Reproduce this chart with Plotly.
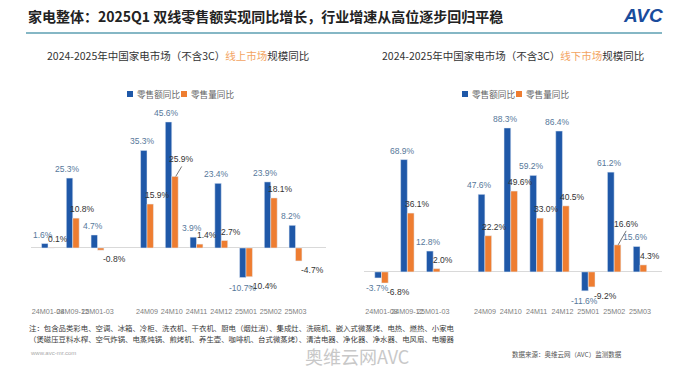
import plotly.graph_objects as go

categories = ["24M01-08", "24M09-12", "25M01-03", " ", "24M09", "24M10", "24M11", "24M12", "25M01", "25M02", "25M03"]

online_value = [1.6, 25.3, 4.7, None, 35.3, 45.6, 3.9, 23.4, -10.7, 23.9, 8.2]
online_volume = [0.1, 10.8, -0.8, None, 15.9, 25.9, 1.4, 2.7, -10.4, 18.1, -4.7]

offline_value = [-3.7, 68.9, 12.8, None, 47.6, 88.3, 59.2, 86.4, -11.6, 61.2, 15.6]
offline_volume = [-6.8, 36.1, 2.0, None, 22.2, 49.6, 33.0, 40.5, -9.2, 16.6, 4.3]

series_names = ["零售额同比", "零售量同比"]

BLUE = "#1f58a8"
ORANGE = "#ee7d31"
BLUE_TXT = "#56789a"
ORANGE_TXT = "#333333"
W, H = 689, 376


def px(x):
    return x / W


def py(y):
    return 1 - y / H


fig = go.Figure()

panels = [
    ("x", "y", online_value, online_volume, {"24M10": (6, -10)}),
    ("x2", "y2", offline_value, offline_volume, {"25M02": (8, -14)}),
]

LABEL_FONT = dict(size=8.5, family="Liberation Sans, Arial")
annotations = []
for xa, ya, vals_a, vals_b, leader in panels:
    for vals, name, color in [(vals_a, series_names[0], BLUE), (vals_b, series_names[1], ORANGE)]:
        fig.add_trace(go.Bar(
            x=categories, y=vals, name=name, marker_color=color,
            xaxis=xa, yaxis=ya, showlegend=False, cliponaxis=False,
        ))
    # data labels, anchored on the data through the axes
    for cat, va, vb in zip(categories, vals_a, vals_b):
        if va is not None:
            annotations.append(dict(
                x=cat, y=va, xref=xa, yref=ya, text=f"{va:.1f}%", showarrow=False,
                xanchor="center", yanchor="bottom" if va >= 0 else "top",
                xshift=-5 if va >= 0 else -4, yshift=2 if va >= 0 else -3,
                font=dict(color=BLUE_TXT, **LABEL_FONT)))
        if vb is not None:
            if cat in leader:
                ax, ay = leader[cat]
                annotations.append(dict(
                    x=cat, y=vb, xref=xa, yref=ya, text=f"{vb:.1f}%", showarrow=True,
                    arrowhead=0, arrowwidth=0.8, arrowcolor="#555555", ax=ax, ay=ay,
                    xanchor="center", yanchor="bottom", xshift=4,
                    font=dict(color=ORANGE_TXT, **LABEL_FONT)))
            else:
                annotations.append(dict(
                    x=cat, y=vb, xref=xa, yref=ya, text=f"{vb:.1f}%", showarrow=False,
                    xanchor="center", yanchor="bottom" if vb >= 0 else "top",
                    xshift=10 if vb >= 0 else 17, yshift=2 if vb >= 0 else -2,
                    font=dict(color=ORANGE_TXT, **LABEL_FONT)))

ydom = [py(306), py(96)]
axis_common = dict(showgrid=False, showline=False, ticks="", type="category",
                   categoryorder="array", categoryarray=categories,
                   tickfont=dict(size=7.2, color="#808080", family="Liberation Sans, Arial"),
                   tickangle=0)
yaxis_common = dict(showgrid=False, showticklabels=False, zeroline=True,
                    zerolinecolor="#d9d9d9", zerolinewidth=1, showline=False, ticks="")

fig.update_layout(
    width=W, height=H,
    margin=dict(l=0, r=0, t=0, b=0),
    paper_bgcolor="white", plot_bgcolor="white",
    barmode="group", bargap=0.48, bargroupgap=0,
    font=dict(family="Noto Sans CJK SC", color="#333333"),
    xaxis=dict(domain=[px(31), px(326)], anchor="y", **axis_common),
    yaxis=dict(domain=ydom, range=[-21.0, 55.0], anchor="x", **yaxis_common),
    xaxis2=dict(domain=[px(364), px(662)], anchor="y2", **axis_common),
    yaxis2=dict(domain=ydom, range=[-20.9, 107.9], anchor="x2", **yaxis_common),
    showlegend=False,
)

# manual compact legends
legend_specs = [(127, 181), (462, 516)]
for x_blue, x_orange in legend_specs:
    for xs, name, color in [(x_blue, series_names[0], BLUE), (x_orange, series_names[1], ORANGE)]:
        fig.add_shape(type="rect", xref="paper", yref="paper",
                      x0=px(xs), x1=px(xs + 6), y0=py(97), y1=py(91),
                      fillcolor=color, line=dict(width=0))
        annotations.append(dict(text=name, x=px(xs + 8), y=py(94), xref="paper", yref="paper",
                                xanchor="left", yanchor="middle", showarrow=False,
                                font=dict(size=8.6, color="#666666")))

texts = [
    dict(text="家电整体：2025Q1 双线零售额实现同比增长，行业增速从高位逐步回归平稳",
         x=px(26), y=py(16), xanchor="left", yanchor="middle",
         font=dict(size=14, color="#222222", family="Noto Sans CJK SC", weight="bold")),
    dict(text="<b><i>AVC</i></b>", x=px(643), y=py(16), xanchor="center", yanchor="middle",
         font=dict(size=19, color="#1a4c9c", family="Liberation Sans, Arial")),
    dict(text="2024-2025年中国家电市场（不含3C）<span style='color:#f3a462'>线上市场</span>规模同比",
         x=px(178), y=py(55), xanchor="center", yanchor="middle",
         font=dict(size=10.5, color="#333333")),
    dict(text="2024-2025年中国家电市场（不含3C）<span style='color:#f3a462'>线下市场</span>规模同比",
         x=px(513), y=py(55), xanchor="center", yanchor="middle",
         font=dict(size=10.5, color="#333333")),
    dict(text="注：包含品类彩电、空调、冰箱、冷柜、洗衣机、干衣机、厨电（烟灶消）、集成灶、洗碗机、嵌入式微蒸烤、电热、燃热、小家电",
         x=px(27), y=py(327), xanchor="left", yanchor="middle",
         font=dict(size=7.4, color="#3a3a3a")),
    dict(text="（煲磁压豆料水榨、空气炸锅、电蒸炖锅、煎烤机、养生壶、咖啡机、台式微蒸烤）、清洁电器、净化器、净水器、电风扇、电暖器",
         x=px(27), y=py(338), xanchor="left", yanchor="middle",
         font=dict(size=7.4, color="#3a3a3a")),
    dict(text="www.avc-mr.com", x=px(28), y=py(353), xanchor="left", yanchor="middle",
         font=dict(size=6, color="#aaaaaa", family="Liberation Sans, Arial")),
    dict(text="数据来源：奥维云网（AVC）监测数据", x=px(510), y=py(354), xanchor="left", yanchor="middle",
         font=dict(size=6.5, color="#555555")),
    dict(text="奥维云网AVC", x=px(357), y=py(356), xanchor="center", yanchor="middle",
         font=dict(size=18, color="#c8c8c8")),
]
for a in texts:
    a["xref"] = "paper"
    a["yref"] = "paper"
    a["showarrow"] = False
annotations.extend(texts)
fig.update_layout(annotations=annotations)

fig.add_shape(type="line", xref="paper", yref="paper",
              x0=px(26), x1=px(662), y0=py(33), y1=py(33),
              line=dict(color="#5d9fb2", width=1.5))

fig.write_html("out.html", config={"displayModeBar": False},
               post_script="document.body.style.margin='0';document.body.style.overflow='hidden';")
